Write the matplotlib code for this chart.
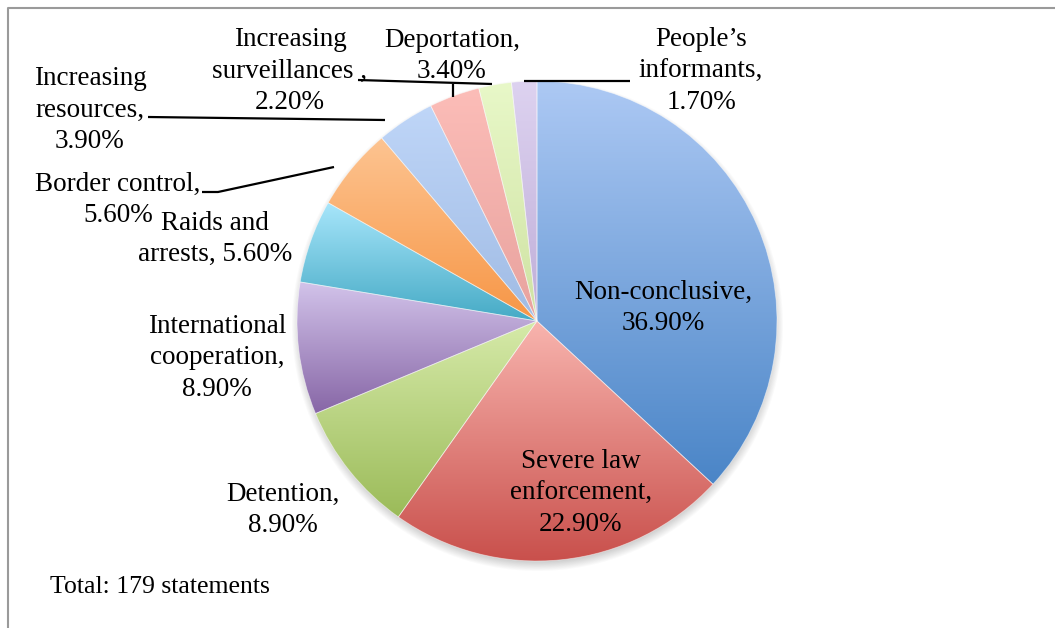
import numpy as np
import matplotlib.pyplot as plt
from matplotlib.colors import LinearSegmentedColormap

# statement categories, clockwise from 12 o'clock
categories = ["Non-conclusive", "Severe law\nenforcement", "Detention",
              "International\ncooperation", "Raids and\narrests", "Border control",
              "Increasing\nresources", "Deportation", "Increasing\nsurveillances ",
              "People\u2019s\ninformants"]
shares = [36.9, 22.9, 8.9, 8.9, 5.6, 5.6, 3.9, 3.4, 2.2, 1.7]
total_statements = 179

# gradient fill per slice: (top colour, bottom colour)
fills = [("#adc9f4", "#4a85c7"), ("#f8b4ae", "#c9504c"), ("#d6eaa9", "#9bbb59"),
         ("#d2c3ea", "#8766a6"), ("#a8e6fb", "#45aac5"), ("#fdc491", "#f79646"),
         ("#bfd6f8", "#a0bbe4"), ("#fcbdb8", "#e8a29e"), ("#e8f8c8", "#cfe2a3"),
         ("#ddd2f0", "#bfaed8")]

H = 628
cx, cy, R = 537, H - 321, 240

# label block centre in pixel space (x, y from top)
label_pos = [(663, 308), (581, 493), (283, 510), (217, 358), (215, 239),
             (118, 200), (90, 110), (452, 56), (290, 71), (701, 71)]
label_sep = [",\n", ",\n", ",\n", ",\n", ", ", ",\n", ",\n", ",\n", ",\n", ",\n"]
line_step = 31.5

fig = plt.figure(figsize=(10.55, 6.28), dpi=100)
ax = fig.add_axes([0, 0, 1, 1])

# soft drop shadow under the pie
sx, sy = np.meshgrid(np.arange(cx - R - 30, cx + R + 30), np.arange(cy - R - 30, cy + R + 30))
dist = np.hypot(sx - cx, sy - (cy - 5))
alpha = np.clip((R + 6 - dist) / 12, 0, 1) * 0.35
shadow = np.zeros(sx.shape + (4,))
shadow[..., :3] = 0.35
shadow[..., 3] = alpha
ax.imshow(shadow, extent=(cx - R - 30, cx + R + 30, cy - R - 30, cy + R + 30),
          origin="lower", zorder=1, interpolation="bilinear")

wedges, _ = ax.pie(shares, startangle=90, counterclock=False, center=(cx, cy),
                   radius=R, frame=True, wedgeprops=dict(linewidth=0))
ax.set_xlim(0, 1055)
ax.set_ylim(0, H)
ax.set_aspect("equal")
ax.axis("off")

grad = np.linspace(0, 1, 256).reshape(-1, 1)
for w, (top, bottom) in zip(wedges, fills):
    w.set_facecolor("none")
    bb = w.get_path().get_extents(w.get_transform() - ax.transData)
    cmap = LinearSegmentedColormap.from_list("g", [bottom, top])
    im = ax.imshow(grad, cmap=cmap, extent=(bb.x0, bb.x1, bb.y0, bb.y1),
                   origin="lower", aspect="auto", zorder=2, interpolation="bilinear")
    im.set_clip_path(w)
    # thin white separators between slices
    w.set_edgecolor((1, 1, 1, 0.5))
    w.set_linewidth(0.6)
    w.set_zorder(3)

font = dict(family="Liberation Serif", fontsize=19.5, color="black")
for name, v, (lx, ly), sep in zip(categories, shares, label_pos, label_sep):
    lines = f"{name}{sep}{v:.2f}%".split("\n")
    y0 = ly - line_step * (len(lines) - 1) / 2
    for i, line in enumerate(lines):
        ax.text(lx, H - (y0 + i * line_step), line, ha="center", va="center",
                zorder=5, **font)

# leader lines
leaders = [
    [(148, 117), (385, 120)],
    [(202, 192), (218, 192), (334, 167)],
    [(358, 80), (492, 84)],
    [(453, 84), (453, 97)],
    [(524, 81), (630, 81)],
]
for pts in leaders:
    xs, ys = zip(*pts)
    ax.plot(xs, [H - y for y in ys], color="black", lw=1.6, zorder=4,
            solid_capstyle="butt")

ax.text(50, H - 587, f"Total: {total_statements} statements", ha="left",
        va="center", **dict(font, fontsize=18.5))

# chart area border
ax.plot([8, 8, 1055], [0, H - 7.5, H - 7.5], color="#9a9a9a", lw=1.5, zorder=6)

fig.savefig("out.png", dpi=100)
